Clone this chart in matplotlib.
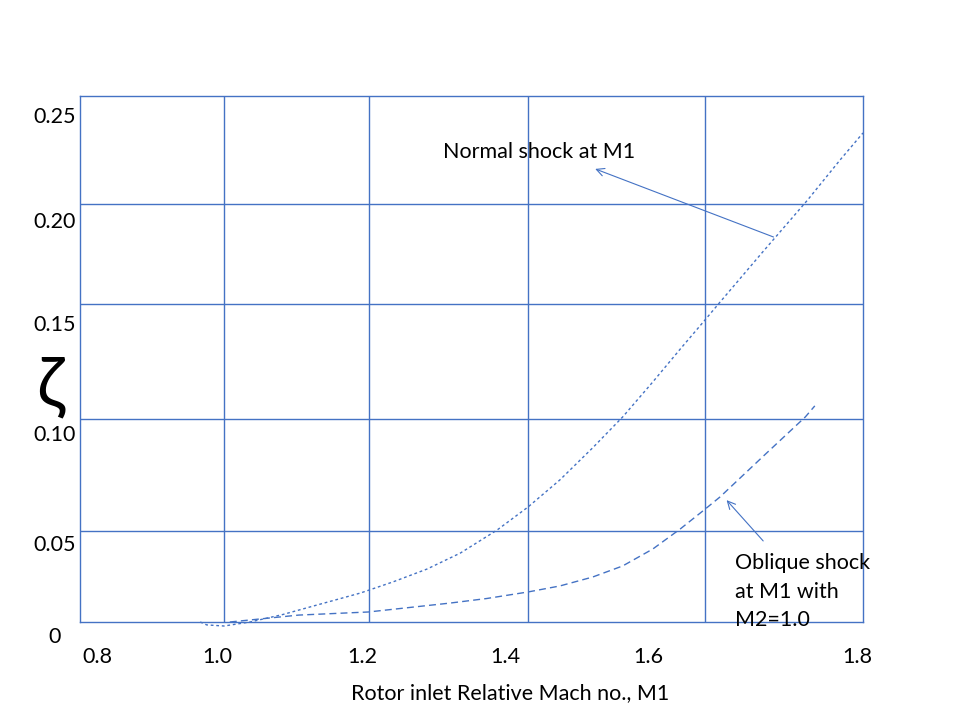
import numpy as np
import matplotlib
matplotlib.use("Agg")
import matplotlib.pyplot as plt

# --- DATA ---
# grid nodes (value -> pixel position of the hand-drawn grid line)
mach_grid = [0.6, 0.8, 1.0, 1.2, 1.4, 1.6, 1.8, 2.0]
mach_px = [-64, 80, 224, 369, 528, 705, 863, 1021]
zeta_grid = [-0.05, 0.0, 0.05, 0.10, 0.15, 0.20, 0.25, 0.30]
zeta_px = [713, 622, 531, 419, 304, 204, 96, -12]

# normal shock at M1
normal_m = [0.967, 0.976, 1.00, 1.036, 1.081, 1.128, 1.188, 1.230, 1.273,
            1.315, 1.361, 1.40, 1.436, 1.473, 1.507, 1.541, 1.572, 1.599,
            1.617, 1.673, 1.730, 1.771, 1.80]
normal_z = [0.0, -0.0016, -0.0022, 0.0, 0.0041, 0.0093, 0.0159, 0.022, 0.0291,
            0.0379, 0.0504, 0.0607, 0.0728, 0.0871, 0.1009, 0.1161, 0.1304, 0.1426,
            0.150, 0.176, 0.2019, 0.2204, 0.2329]

# oblique shock at M1 with M2 = 1.0
oblique_m = [1.008, 1.103, 1.199, 1.302, 1.348, 1.40, 1.436, 1.473, 1.507,
             1.541, 1.572, 1.599, 1.619, 1.678, 1.727, 1.739]
oblique_z = [0.0, 0.0038, 0.0055, 0.0104, 0.0129, 0.0165, 0.0198, 0.0247, 0.0308,
             0.0401, 0.0509, 0.0594, 0.0652, 0.0848, 0.1009, 0.1057]

x_labels = ["0.8", "1.0", "1.2", "1.4", "1.6", "1.8"]
y_labels = ["0.25", "0.20", "0.15", "0.10", "0.05", "0"]

BLUE = "#4472C4"
FS = 15.5
plt.rcParams['font.family'] = ['Lato', 'DejaVu Sans']

fig = plt.figure(figsize=(9.6, 7.2), dpi=100)
W, H = 960, 720
ax = fig.add_axes([80 / W, (H - 622) / H, (863 - 80) / W, (622 - 96) / H])


def fx(v):
    return np.interp(v, mach_grid, mach_px)


def ifx(p):
    return np.interp(p, mach_px, mach_grid)


def fy(v):
    return -np.interp(v, zeta_grid, zeta_px)


def ify(p):
    return np.interp(-np.asarray(p), zeta_px[::-1], zeta_grid[::-1])


ax.set_xscale('function', functions=(fx, ifx))
ax.set_yscale('function', functions=(fy, ify))
ax.set_xlim(0.8, 1.8)
ax.set_ylim(0.0, 0.25)
ax.set_xticks([1.0, 1.2, 1.4, 1.6])
ax.set_yticks([0.05, 0.10, 0.15, 0.20])
ax.tick_params(length=0, labelbottom=False, labelleft=False)
ax.xaxis.set_minor_locator(matplotlib.ticker.NullLocator())
ax.yaxis.set_minor_locator(matplotlib.ticker.NullLocator())
ax.grid(True, color=BLUE, linewidth=1.0)
for s in ax.spines.values():
    s.set_color(BLUE)
    s.set_linewidth(1.0)

ax.plot(normal_m, normal_z, color=BLUE, lw=1.0, linestyle=(0, (2, 2)), clip_on=False)
ax.plot(oblique_m, oblique_z, color=BLUE, lw=1.0, linestyle=(0, (5, 3)), clip_on=False)

# annotations
ax.annotate("", xy=(1.473, 0.2167), xytext=(1.69, 0.183),
            arrowprops=dict(arrowstyle="->", color=BLUE, lw=0.8, mutation_scale=14))
ax.annotate("", xy=(1.625, 0.0647), xytext=(1.676, 0.0434),
            arrowprops=dict(arrowstyle="->", color=BLUE, lw=0.8, mutation_scale=14))

fig.text(443 / W, 1 - 152 / H, "Normal shock at M1", fontsize=FS, va='center', ha='left')
for line, py in zip(["Oblique shock", "at M1 with", "M2=1.0"], [563, 592, 620]):
    fig.text(735 / W, 1 - py / H, line, fontsize=FS, va='center', ha='left')

# tick labels (hand-placed like the original slide)
x_lab_px = [97, 217, 362, 505, 648, 857]
for lab, px in zip(x_labels, x_lab_px):
    fig.text(px / W, 1 - 657 / H, lab, fontsize=FS, ha='center', va='center')
y_lab_px = [117, 222, 325, 435, 545, 637]
for lab, py in zip(y_labels, y_lab_px):
    fig.text(55 / W, 1 - py / H, lab, fontsize=FS, ha='center', va='center')

fig.text(510 / W, 1 - 693 / H, "Rotor inlet Relative Mach no., M1", fontsize=FS,
         ha='center', va='center')
fig.text(50 / W, 1 - 387 / H, "ζ", fontsize=50, ha='center', va='center')

fig.savefig("out.png", dpi=100)
